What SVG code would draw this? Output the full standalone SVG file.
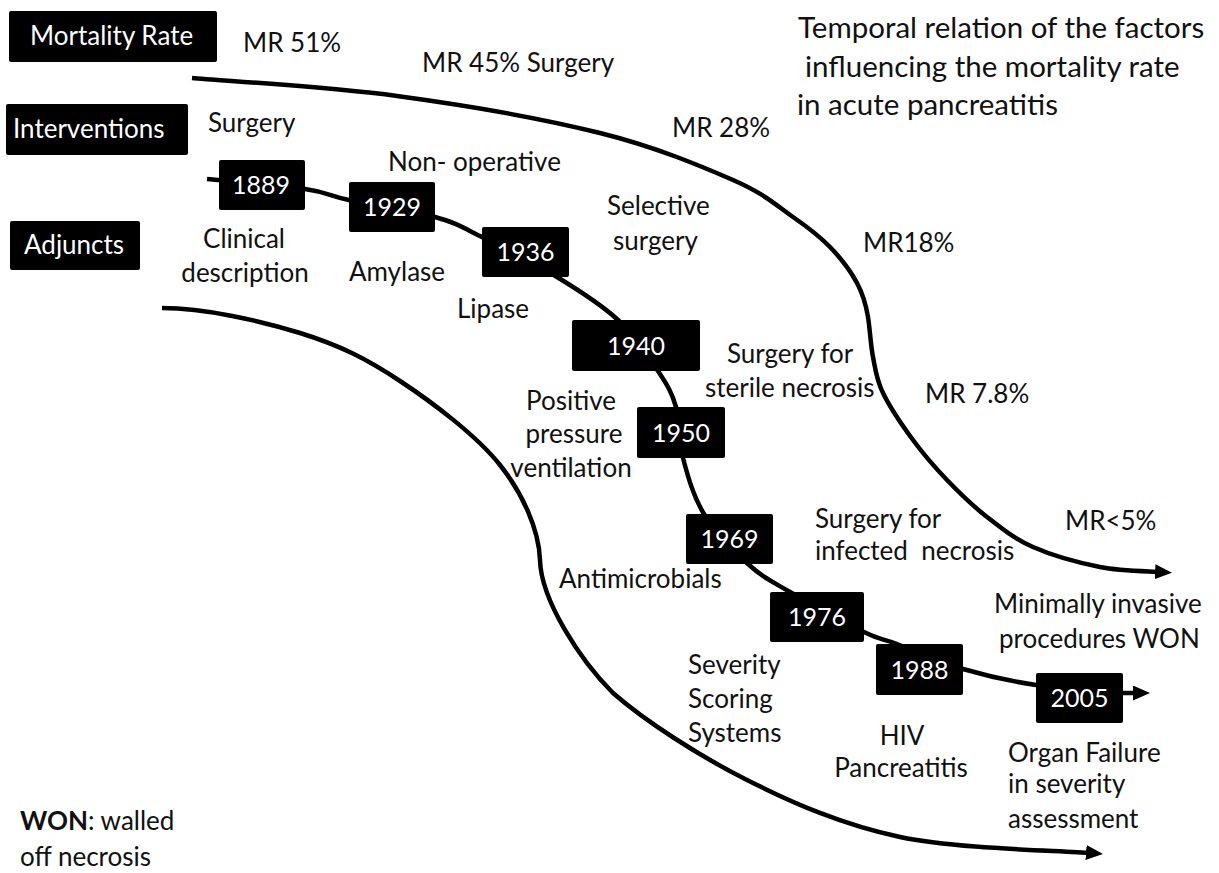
<svg xmlns="http://www.w3.org/2000/svg" width="1219" height="873" viewBox="0 0 1219 873">
<style>
text{font-family:Lato,"Liberation Sans",sans-serif;fill:#111}
.t{font-size:26px}
.ttl{font-size:29.5px}
.bx{fill:#000}
.w{fill:#fff;font-size:26px}
.yr{fill:#fff;font-size:25px;text-anchor:middle}
.c{text-anchor:middle}
.ln{fill:none;stroke:#000;stroke-width:4.5}
</style>
<defs>
<marker id="ah" viewBox="0 0 17 15" refX="5" refY="7.5" markerWidth="17" markerHeight="15" markerUnits="userSpaceOnUse" orient="auto">
<path d="M0,0 L17,7.5 L0,15 z" fill="#000"/>
</marker>
</defs>
<rect width="1219" height="873" fill="#fff"/>
<g id="connectors">
<path class="ln" marker-end="url(#ah)" d="M192,78 C226.2,81 329,86.8 397,96 C465,105.2 544,119 600,133 C656,147 700.8,166 733,180 C765.2,194 776.8,205.8 793,217 C809.2,228.2 819.3,236 830,247 C840.7,258 850.7,271.3 857,283 C863.3,294.7 866,305 868,317 C870,329 870.5,344.3 873,357 C875.5,369.7 876.3,379.2 883,393 C889.7,406.8 902.3,425.5 913,440 C923.7,454.5 934.7,467.2 947,480 C959.3,492.8 972.7,505.8 987,517 C1001.3,528.2 1014.2,538.7 1033,547 C1051.8,555.3 1079.2,562.8 1100,567 C1120.8,571.2 1148.3,571.2 1160,572"/>
<path class="ln" marker-end="url(#ah)" d="M207,179 C223.3,180.7 281.3,185.5 305,189 C328.7,192.5 327.3,195.3 349,200 C370.7,204.7 412.8,210.8 435,217 C457.2,223.2 461.7,227 482,237 C502.3,247 534.3,263.2 557,277 C579.7,290.8 601.2,304.3 618,320 C634.8,335.7 648.3,356.5 658,371 C667.7,385.5 671.8,392.5 676,407 C680.2,421.5 678.3,440.2 683,458 C687.7,475.8 693.2,496.3 704,514 C714.8,531.7 733.7,551 748,564 C762.3,577 770.7,580.7 790,592 C809.3,603.3 846.2,623.3 864,632 C881.8,640.7 880.5,637.8 897,644 C913.5,650.2 939.8,662.2 963,669 C986.2,675.8 1009.3,681 1036,685 C1062.7,689 1105.7,691.5 1123,693 L1138,693"/>
<path class="ln" marker-end="url(#ah)" d="M162,308 C205,308 260.3,320.8 300,333 C339.7,345.2 366.7,359 400,381 C433.3,403 477,436 500,465 C523,494 539,530 540,560 C541,600 580,660 613,693 C645,721 699.2,756 747,780 C794.8,804 842.7,824.8 900,837 C957.3,849.2 1059.2,850.3 1091,853"/>
</g>
<g id="legend-mortality"><rect class="bx" x="9" y="11" width="208" height="51" rx="2"/><text class="w" x="30" y="45">Mortality Rate</text></g>
<g id="legend-interventions"><rect class="bx" x="6" y="104" width="182" height="51" rx="2"/><text class="w" x="13" y="138">Interventions</text></g>
<g id="legend-adjuncts"><rect class="bx" x="10" y="221" width="130" height="49" rx="2"/><text class="w" x="24" y="254">Adjuncts</text></g>
<g id="title"><text class="ttl" x="798" y="38">Temporal relation of the factors</text><text class="ttl" x="805" y="77">influencing the mortality rate</text><text class="ttl" x="797" y="115">in acute pancreatitis</text></g>
<g id="y1889"><rect class="bx" x="219" y="160" width="86" height="50" rx="2"/><text class="yr" x="261" y="194">1889</text></g>
<g id="y1929"><rect class="bx" x="349" y="182" width="86" height="50" rx="2"/><text class="yr" x="392" y="216">1929</text></g>
<g id="y1936"><rect class="bx" x="482" y="227" width="87" height="50" rx="2"/><text class="yr" x="525.5" y="261">1936</text></g>
<g id="y1940"><rect class="bx" x="572" y="320" width="128" height="51" rx="2"/><text class="yr" x="636" y="355">1940</text></g>
<g id="y1950"><rect class="bx" x="637" y="407" width="88" height="51" rx="2"/><text class="yr" x="681" y="442">1950</text></g>
<g id="y1969"><rect class="bx" x="686" y="514" width="87" height="50" rx="2"/><text class="yr" x="729.5" y="548">1969</text></g>
<g id="y1976"><rect class="bx" x="770" y="592" width="94" height="50" rx="2"/><text class="yr" x="817" y="626">1976</text></g>
<g id="y1988"><rect class="bx" x="876" y="644" width="87" height="51" rx="2"/><text class="yr" x="919.5" y="679">1988</text></g>
<g id="y2005"><rect class="bx" x="1036" y="673" width="87" height="50" rx="2"/><text class="yr" x="1079.5" y="707">2005</text></g>
<g id="labels">
<text class="t" x="243" y="52">MR 51%</text>
<text class="t" x="422" y="72">MR 45% Surgery</text>
<text class="t" x="672" y="137">MR 28%</text>
<text class="t" x="863" y="252">MR18%</text>
<text class="t" x="925" y="403">MR 7.8%</text>
<text class="t" x="1065" y="530">MR&lt;5%</text>
<text class="t" x="208" y="132">Surgery</text>
<text class="t" x="388" y="171">Non- operative</text>
<text class="t" x="607" y="215">Selective</text>
<text class="t" x="613" y="250">surgery</text>
<text class="t" x="727" y="363">Surgery for</text>
<text class="t" x="705" y="397">sterile necrosis</text>
<text class="t" x="815" y="528">Surgery for</text>
<text class="t" x="815" y="560" xml:space="preserve">infected  necrosis</text>
<text class="t" x="994" y="613">Minimally invasive</text>
<text class="t" x="999" y="648">procedures WON</text>
<text class="t c" x="244" y="248">Clinical</text>
<text class="t c" x="245" y="282">description</text>
<text class="t" x="349" y="281">Amylase</text>
<text class="t" x="457" y="318">Lipase</text>
<text class="t c" x="571" y="410">Positive</text>
<text class="t c" x="574" y="443">pressure</text>
<text class="t c" x="571" y="477">ventilation</text>
<text class="t" x="559" y="588">Antimicrobials</text>
<text class="t" x="688" y="674">Severity</text>
<text class="t" x="688" y="708">Scoring</text>
<text class="t" x="688" y="742">Systems</text>
<text class="t c" x="902" y="745">HIV</text>
<text class="t c" x="901" y="777">Pancreatitis</text>
<text class="t" x="1008" y="762">Organ Failure</text>
<text class="t" x="1008" y="793">in severity</text>
<text class="t" x="1008" y="828">assessment</text>
<text class="t" x="20" y="830"><tspan font-weight="bold">WON</tspan>: walled</text>
<text class="t" x="20" y="866">off necrosis</text>
</g>
</svg>
